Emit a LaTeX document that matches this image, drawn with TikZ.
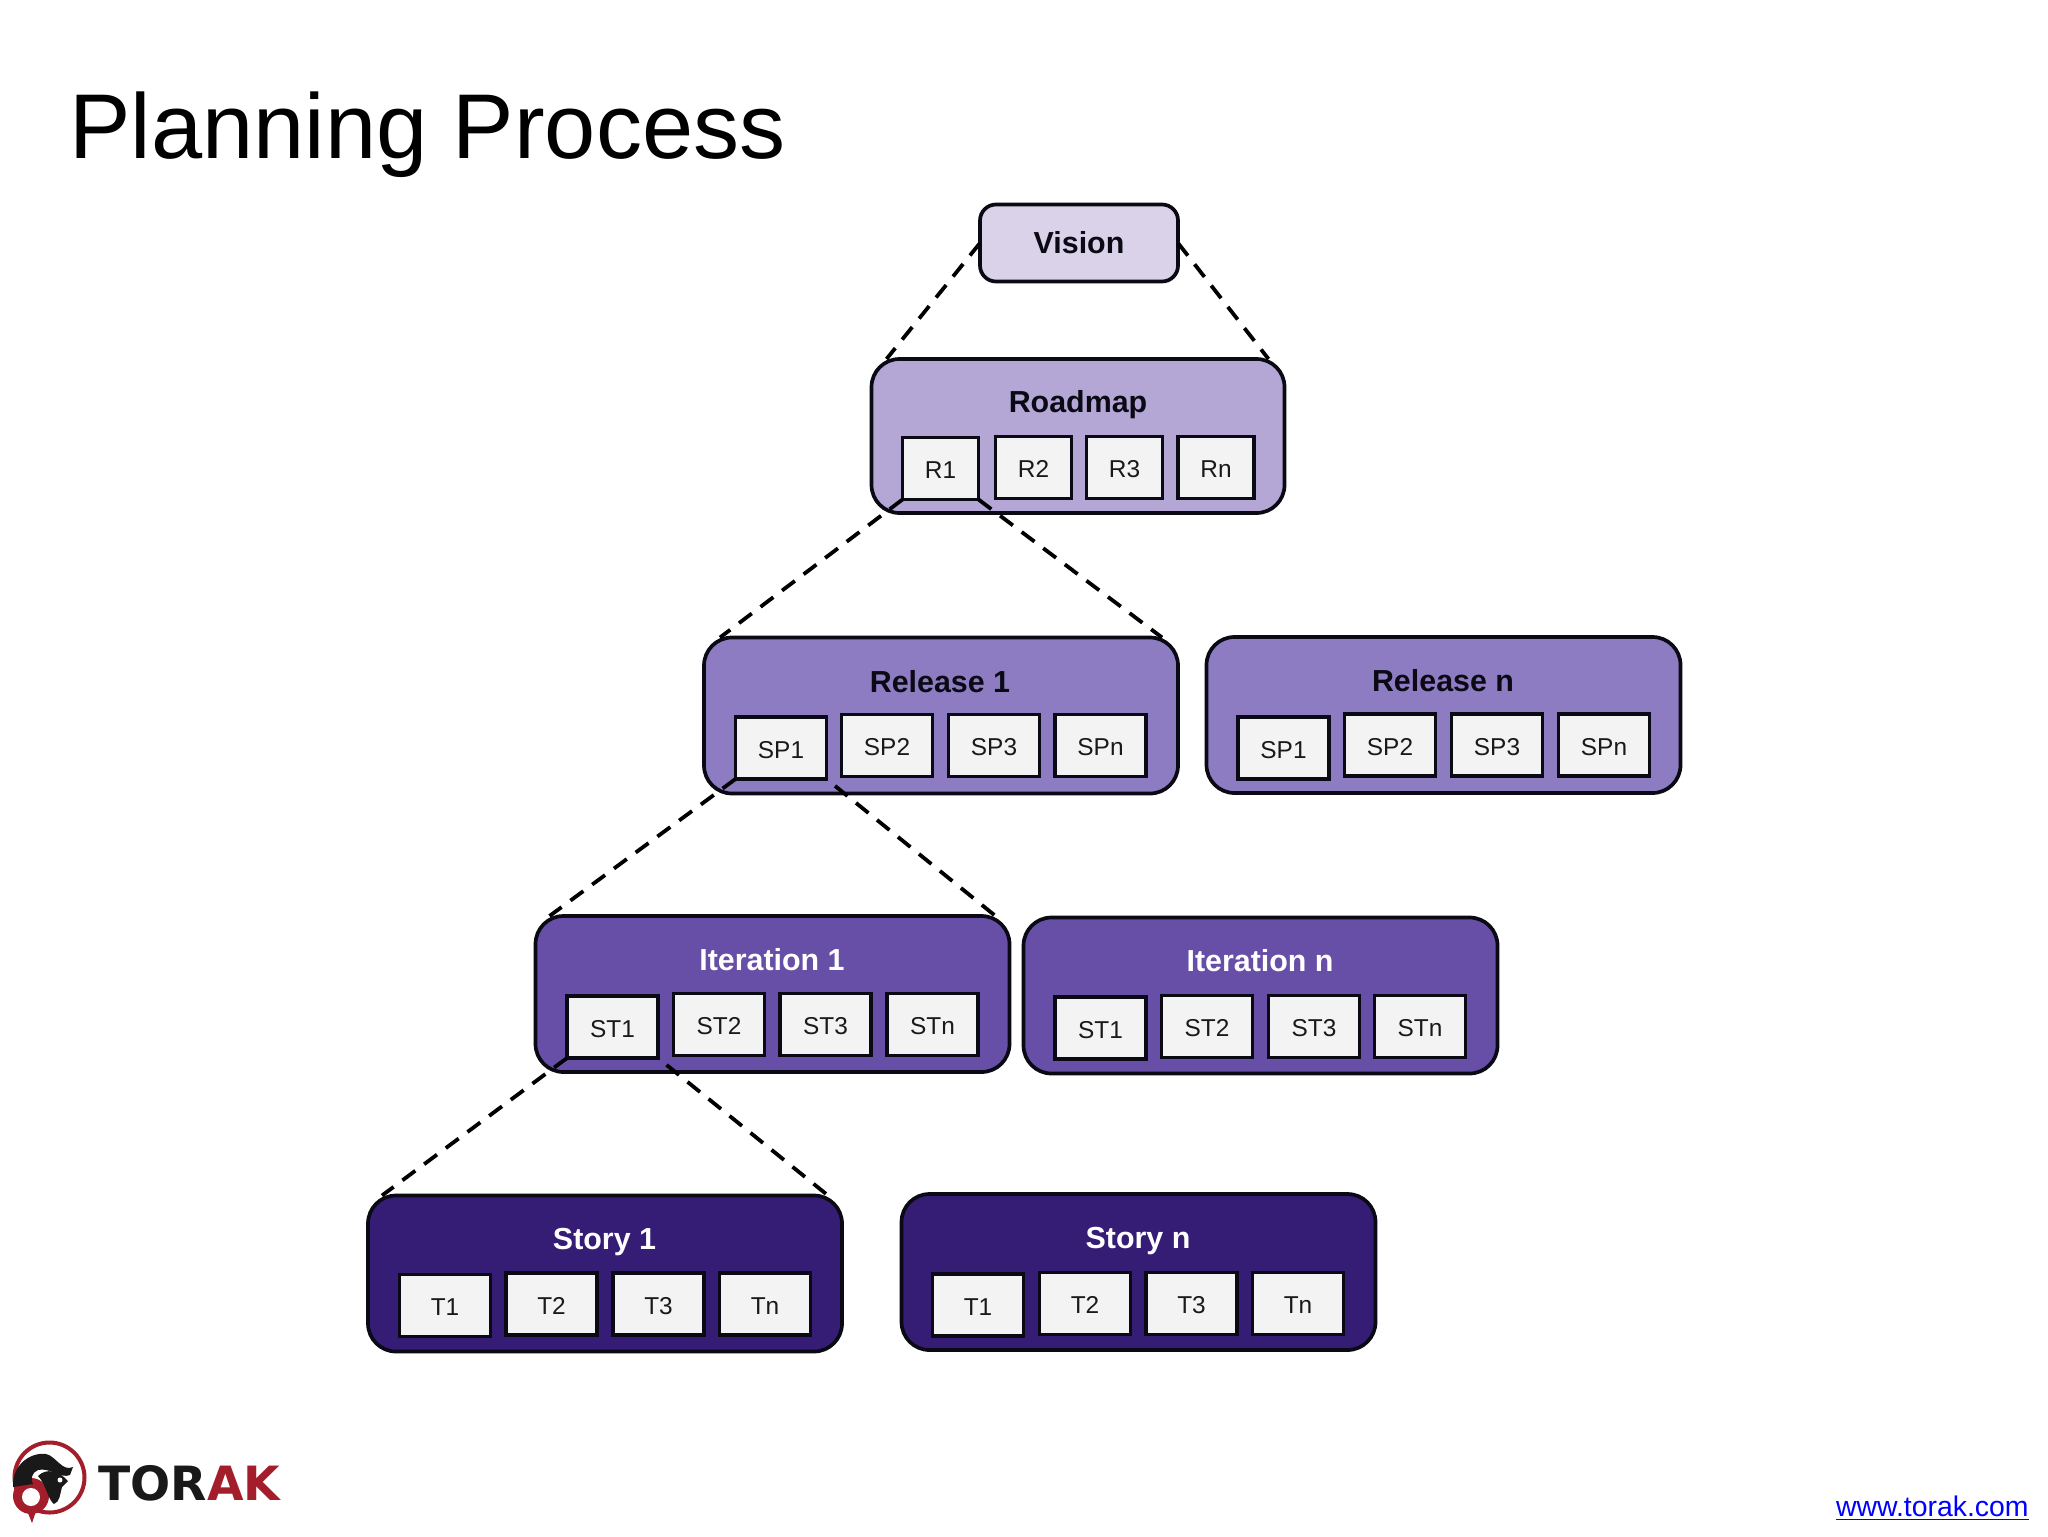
\documentclass[tikz,border=0pt]{standalone}
\usepackage{fontspec}
\setmainfont{Liberation Sans}
\newfontfamily\logofont{DejaVu Sans}
\definecolor{cVision}{HTML}{D9D2E9}
\definecolor{cRoad}{HTML}{B4A7D6}
\definecolor{cRel}{HTML}{8E7CC3}
\definecolor{cIter}{HTML}{674EA7}
\definecolor{cStory}{HTML}{351C75}
\definecolor{cBox}{HTML}{F3F3F3}
\definecolor{cLogo}{HTML}{A31D2B}
\definecolor{cInk}{HTML}{0A0A14}
\tikzset{
  group/.style={draw=cInk,line width=1.85pt,rounded corners=14pt,outer sep=0pt,inner sep=0pt},
  visionbox/.style={group,fill=cVision,rounded corners=8pt,minimum width=99pt,minimum height=38.5pt},
  levelbox/.style={group,minimum width=237pt,minimum height=78pt},
  roadbox/.style={group,fill=cRoad,minimum width=206.5pt,minimum height=77pt},
  item/.style={draw=cInk,line width=1.8pt,fill=cBox,outer sep=0pt,inner sep=0pt,minimum height=31pt,
    font=\fontsize{12.2}{12.2}\selectfont,text=black!90,text height=10pt,text depth=0pt},
  ritem/.style={item,minimum width=38pt},
  witem/.style={item,minimum width=45.5pt},
  head/.style={anchor=base,inner sep=0pt,font=\fontsize{15.2}{15.2}\selectfont\bfseries},
  link/.style={draw=black,line width=1.9pt,dash pattern=on 8pt off 5.5pt,line cap=butt},
  linkgap/.style={link,dash phase=8pt}
}
\begin{document}
\begin{tikzpicture}[x=0.5pt,y=-0.5pt]
\useasboundingbox[fill=white] (0,0) rectangle (2048,1536);

\node[anchor=base west,inner sep=0pt,font=\fontsize{46}{46}\selectfont] (title) at (69,158) {Planning Process};

% level boxes
\node[visionbox] (vision) at (1079,243) {};
\node[head,text=cInk] (visionT) at (1079,253) {Vision};

\node[roadbox] (roadmap) at (1078,436) {};
\node[head,text=cInk] (roadmapT) at (1078,412) {Roadmap};
\node[ritem] (r1) at (940.5,468.5) {R1};
\node[ritem] (r2) at (1033.5,467.5) {R2};
\node[ritem] (r3) at (1124.5,467.5) {R3};
\node[ritem] (rn) at (1216,467.5) {Rn};

\node[levelbox,fill=cRel] (rel1) at (941,715.5) {};
\node[head,text=cInk] (rel1T) at (940,692) {Release 1};
\node[witem] (rel1a) at (781,748) {SP1};
\node[witem] (rel1b) at (887,745.5) {SP2};
\node[witem] (rel1c) at (994,745.5) {SP3};
\node[witem] (rel1d) at (1100.5,745.5) {SPn};

\node[levelbox,fill=cRel] (reln) at (1443.5,715) {};
\node[head,text=cInk] (relnT) at (1443,691) {Release n};
\node[witem] (relna) at (1283.5,748) {SP1};
\node[witem] (relnb) at (1390,745) {SP2};
\node[witem] (relnc) at (1497,745) {SP3};
\node[witem] (relnd) at (1604,745) {SPn};

\node[levelbox,fill=cIter] (it1) at (772.5,994) {};
\node[head,text=white] (it1T) at (772,970) {Iteration 1};
\node[witem] (it1a) at (612.5,1027) {ST1};
\node[witem] (it1b) at (719,1024.5) {ST2};
\node[witem] (it1c) at (825.5,1024.5) {ST3};
\node[witem] (it1d) at (932.5,1024.5) {STn};

\node[levelbox,fill=cIter] (itn) at (1260.5,995.5) {};
\node[head,text=white] (itnT) at (1260,971) {Iteration n};
\node[witem] (itna) at (1100.5,1028) {ST1};
\node[witem] (itnb) at (1207,1026.5) {ST2};
\node[witem] (itnc) at (1314,1026.5) {ST3};
\node[witem] (itnd) at (1420,1026.5) {STn};

\node[levelbox,fill=cStory] (st1) at (605,1273.5) {};
\node[head,text=white] (st1T) at (604.5,1249) {Story 1};
\node[witem] (st1a) at (445,1305.5) {T1};
\node[witem] (st1b) at (551.5,1304) {T2};
\node[witem] (st1c) at (658.5,1304) {T3};
\node[witem] (st1d) at (765,1304) {Tn};

\node[levelbox,fill=cStory] (stn) at (1138.5,1272) {};
\node[head,text=white] (stnT) at (1138,1248) {Story n};
\node[witem] (stna) at (978,1305) {T1};
\node[witem] (stnb) at (1085,1303.5) {T2};
\node[witem] (stnc) at (1191.5,1303.5) {T3};
\node[witem] (stnd) at (1298,1303.5) {Tn};

% dashed connectors
\draw[link] (vision.west) -- ([xshift=7.5pt]roadmap.north west);
\draw[link] (vision.east) -- ([xshift=-8pt]roadmap.north east);
\draw[link] (r1.south west) -- ([xshift=8pt]rel1.north west);
\draw[link] (r1.south east) -- ([xshift=-8pt]rel1.north east);
\draw[link] (rel1a.south west) -- ([xshift=7pt]it1.north west);
\draw[linkgap] (rel1a.south east) -- ([xshift=-7pt]it1.north east);
\draw[link] (it1a.south west) -- ([xshift=7pt]st1.north west);
\draw[linkgap] (it1a.south east) -- ([xshift=-7pt]st1.north east);

% footer link
\node[anchor=base east,inner sep=0pt,text=blue,font=\fontsize{14.2}{14.2}\selectfont] (url) at (2029,1516) {\underline{www.torak.com}};

% logo
\draw[cLogo,line width=2pt] (49.5,1477.5) circle[radius=35];
\fill[cLogo] (31,1496) circle[radius=18];
\fill[cLogo] (26,1508) -- (37,1508) -- (32,1523) -- cycle;
\fill[white] (31,1497) circle[radius=9];
\fill[black!90] (13,1487) .. controls (12,1465) and (30,1452) .. (46,1454)
  .. controls (56,1456) and (62,1472) .. (73,1467) -- (70,1475)
  .. controls (60,1479) and (50,1467) .. (38,1470)
  .. controls (32,1472) and (30,1480) .. (33,1484) -- cycle;
\fill[black!90] (38,1476) .. controls (46,1468) and (58,1470) .. (68,1481)
  -- (62,1487) .. controls (60,1494) and (60,1502) .. (54,1504)
  .. controls (48,1500) and (46,1484) .. (38,1476) -- cycle;
\fill[white] (60,1480) circle[radius=2.5];
\node[anchor=base west,inner sep=0pt,font=\fontsize{23.6}{23.6}\logofont\bfseries] (logo) at (98,1500)
  {\textcolor{black!90}{TOR}\textcolor{cLogo}{AK}};
\end{tikzpicture}
\end{document}
